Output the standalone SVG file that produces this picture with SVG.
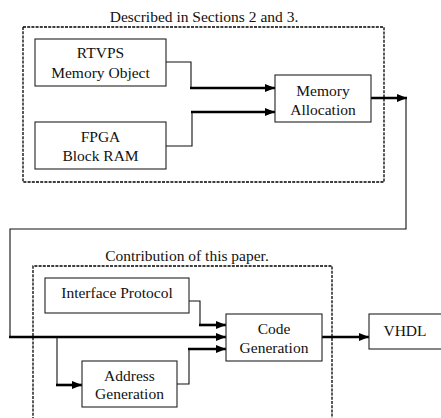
<svg xmlns="http://www.w3.org/2000/svg" width="441" height="418" viewBox="0 0 441 418">
<defs>
<marker id="ah" markerUnits="userSpaceOnUse" markerWidth="10" markerHeight="8" refX="10" refY="4" orient="auto">
<path d="M0,0 L10,4 L0,8 z" fill="#000"/>
</marker>
<style>
.box{fill:#fff;stroke:#222;stroke-width:1.1}
.dash{fill:none;stroke:#000;stroke-width:1.3;stroke-dasharray:3,1.2}
.t{font-family:'Liberation Serif',Tinos,'Noto Serif','DejaVu Serif',FreeSerif,'Times New Roman',Times,serif;font-size:15.5px;fill:#111;text-anchor:middle}
.thin{fill:none;stroke:#111;stroke-width:1.1}
.thick{fill:none;stroke:#000;stroke-width:2.6;marker-end:url(#ah)}
</style>
</defs>
<rect width="441" height="418" fill="#fff"/>
<g id="section1">
<rect class="dash" x="23" y="27" width="361" height="155"/>
<text class="t" x="204" y="22">Described in Sections 2 and 3.</text>
</g>
<g id="section2">
<path class="dash" d="M33,420 V266 H332 V420"/>
<text class="t" x="187" y="261">Contribution of this paper.</text>
</g>
<g id="connectors">
<path class="thin" d="M166,62 H191 V88"/>
<path class="thick" d="M190,88 H275"/>
<path class="thin" d="M166,146 H192 V112"/>
<path class="thick" d="M191,112 H275"/>
<path class="thick" d="M371,98 H407"/>
<path class="thin" d="M406,98 V229 H10 V337"/>
<path class="thick" d="M9,337 H226"/>
<path class="thin" d="M189,301 H200 V325"/>
<path class="thick" d="M199,325 H226"/>
<path class="thin" d="M57,337 V385"/>
<path class="thick" d="M56,385 H82"/>
<path class="thin" d="M177,384 H189 V349"/>
<path class="thick" d="M188,349 H226"/>
<path class="thick" d="M322,337 H369"/>
</g>
<g id="rtvps">
<rect class="box" x="35" y="39" width="131" height="47"/>
<text class="t" x="100.5" y="58">RTVPS</text>
<text class="t" x="100.5" y="78">Memory Object</text>
</g>
<g id="fpga">
<rect class="box" x="35" y="122" width="131" height="47"/>
<text class="t" x="100.5" y="142">FPGA</text>
<text class="t" x="100.5" y="161">Block RAM</text>
</g>
<g id="memalloc">
<rect class="box" x="275" y="75" width="96" height="47"/>
<text class="t" x="323" y="96">Memory</text>
<text class="t" x="323" y="115">Allocation</text>
</g>
<g id="interface">
<rect class="box" x="45" y="278" width="144" height="35"/>
<text class="t" x="117" y="298">Interface Protocol</text>
</g>
<g id="codegen">
<rect class="box" x="226" y="314" width="96" height="47"/>
<text class="t" x="274" y="334">Code</text>
<text class="t" x="274" y="353">Generation</text>
</g>
<g id="addrgen">
<rect class="box" x="82" y="361" width="95" height="46"/>
<text class="t" x="129.5" y="381">Address</text>
<text class="t" x="129.5" y="399">Generation</text>
</g>
<g id="vhdl">
<rect class="box" x="369" y="314" width="80" height="35"/>
<text class="t" x="405" y="336">VHDL</text>
</g>
</svg>
